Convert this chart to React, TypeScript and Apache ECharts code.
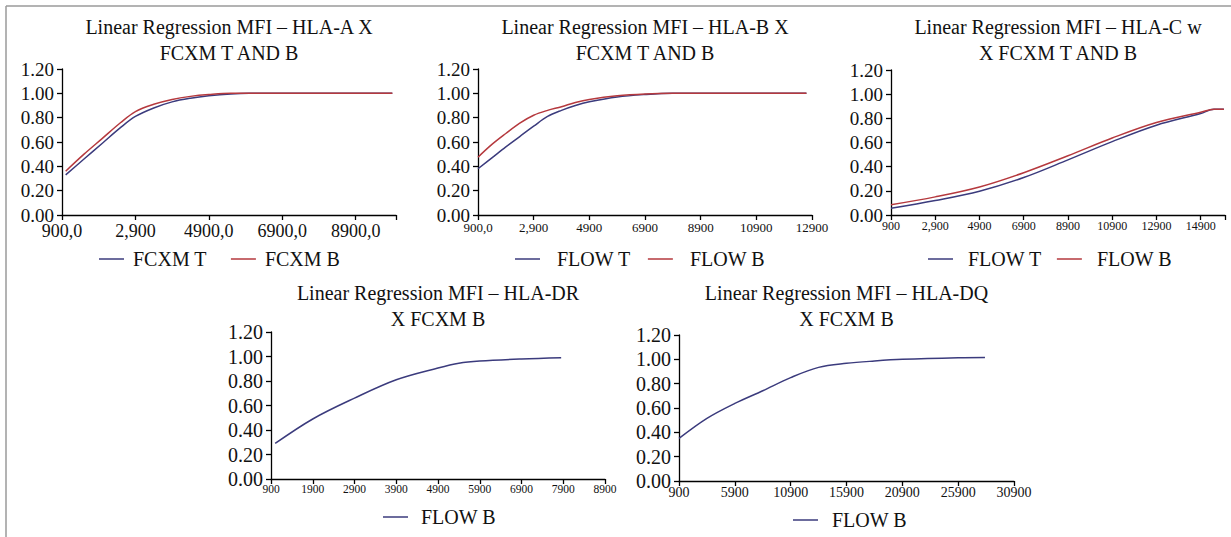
import React, { useEffect, useRef } from 'react';
import * as echarts from 'echarts';

const NAVY = '#3b3b7d';
const RED = '#b5393e';
const FONT = 'Liberation Serif';

// ---- titles ----
const titleA = 'Linear Regression MFI – HLA-A X\nFCXM T AND B';
const titleB = 'Linear Regression MFI – HLA-B X\nFCXM T AND B';
const titleC = 'Linear Regression MFI – HLA-C w\nX FCXM T AND B';
const titleDR = 'Linear Regression MFI – HLA-DR\nX FCXM B';
const titleDQ = 'Linear Regression MFI – HLA-DQ\nX FCXM B';

// ---- HLA-A ----
const aX = [1000, 1500, 2000, 2500, 2900, 3400, 3900, 4400, 4900, 5500, 6000, 7000, 8000, 9000, 9900];
const aT = [0.33, 0.46, 0.59, 0.72, 0.81, 0.88, 0.93, 0.96, 0.98, 0.995, 1.0, 1.0, 1.0, 1.0, 1.0];
const aB = [0.36, 0.5, 0.63, 0.76, 0.85, 0.91, 0.95, 0.975, 0.99, 1.0, 1.0, 1.0, 1.0, 1.0, 1.0];
const aTickValues = [900, 2900, 4900, 6900, 8900];
const aTickLabels = ['900,0', '2,900', '4900,0', '6900,0', '8900,0'];

// ---- HLA-B ----
const bX = [900, 1400, 1900, 2400, 2900, 3400, 3900, 4400, 4900, 5900, 6900, 7900, 8900, 10900, 12700];
const bT = [0.38, 0.47, 0.56, 0.645, 0.73, 0.81, 0.86, 0.9, 0.93, 0.97, 0.99, 1.0, 1.0, 1.0, 1.0];
const bB = [0.475, 0.58, 0.67, 0.755, 0.82, 0.86, 0.89, 0.925, 0.95, 0.98, 0.995, 1.0, 1.0, 1.0, 1.0];
const bTickValues = [900, 2900, 4900, 6900, 8900, 10900, 12900];
const bTickLabels = ['900,0', '2,900', '4900', '6900', '8900', '10900', '12900'];

// ---- HLA-C ----
const cX = [900, 2900, 4900, 6900, 8900, 10900, 12900, 14900, 15500, 15950];
const cT = [0.055, 0.12, 0.197, 0.31, 0.456, 0.607, 0.743, 0.84, 0.875, 0.875];
const cB = [0.085, 0.15, 0.232, 0.35, 0.49, 0.637, 0.765, 0.85, 0.875, 0.875];
const cTickValues = [900, 2900, 4900, 6900, 8900, 10900, 12900, 14900];
const cTickLabels = ['900', '2,900', '4900', '6900', '8900', '10900', '12900', '14900'];

// ---- HLA-DR ----
const drX = [1000, 1900, 2900, 3900, 4900, 5400, 5900, 6900, 7850];
const drB = [0.29, 0.49, 0.66, 0.81, 0.906, 0.945, 0.963, 0.98, 0.99];
const drTickValues = [900, 1900, 2900, 3900, 4900, 5900, 6900, 7900, 8900];
const drTickLabels = ['900', '1900', '2900', '3900', '4900', '5900', '6900', '7900', '8900'];

// ---- HLA-DQ ----
const dqX = [900, 3400, 5900, 8400, 10900, 13400, 15900, 18400, 20900, 25900, 28300];
const dqB = [0.35, 0.515, 0.638, 0.742, 0.85, 0.934, 0.967, 0.986, 1.0, 1.014, 1.016];
const dqTickValues = [900, 5900, 10900, 15900, 20900, 25900, 30900];
const dqTickLabels = ['900', '5900', '10900', '15900', '20900', '25900', '30900'];

const yTickValues = [0, 0.2, 0.4, 0.6, 0.8, 1.0, 1.2];
const yTickLabels = ['0.00', '0.20', '0.40', '0.60', '0.80', '1.00', '1.20'];

function pairs(xs: number[], ys: number[]) {
  return xs.map((x, i) => [x, ys[i]]);
}

function labelFrom(values: number[], labels: string[]) {
  return (v: number) => {
    for (let i = 0; i < values.length; i++) {
      if (Math.abs(values[i] - v) < 1e-6) return labels[i];
    }
    return '';
  };
}

export default function App() {
  const ref = useRef<HTMLDivElement>(null);

  useEffect(() => {
    if (!ref.current) return;
    const chart = echarts.init(ref.current, undefined, { renderer: 'svg' });

    const grids = [
      { left: 62, top: 69, width: 334, height: 146 },
      { left: 478, top: 69, width: 334, height: 146 },
      { left: 891, top: 70, width: 334, height: 145 },
      { left: 271, top: 332, width: 334, height: 147 },
      { left: 679, top: 335, width: 335, height: 146 },
    ];

    const xSpecs = [
      { min: 900, max: 10000, interval: 2000, vals: aTickValues, labs: aTickLabels, fs: 18, m: 8 },
      { min: 900, max: 12900, interval: 2000, vals: bTickValues, labs: bTickLabels, fs: 13, m: 6 },
      { min: 900, max: 16000, interval: 2000, vals: cTickValues, labs: cTickLabels, fs: 12, m: 5 },
      { min: 900, max: 8900, interval: 1000, vals: drTickValues, labs: drTickLabels, fs: 11.5, m: 5 },
      { min: 900, max: 30900, interval: 5000, vals: dqTickValues, labs: dqTickLabels, fs: 14, m: 5 },
    ];
    const yFs = [19, 19, 19, 20, 20];

    const axisLine = { show: true, lineStyle: { color: '#000', width: 1.3 } };
    const axisTick = { show: true, inside: false, length: 5, lineStyle: { color: '#000', width: 1.3 } };

    const xAxis = xSpecs.map((s, i) => ({
      type: 'value',
      gridIndex: i,
      min: s.min,
      max: s.max,
      interval: s.interval,
      splitLine: { show: false },
      axisLine,
      axisTick,
      axisLabel: {
        color: '#111',
        fontFamily: FONT,
        fontSize: s.fs,
        lineHeight: Math.round(s.fs * 0.9),
        margin: s.m,
        showMinLabel: true,
        showMaxLabel: true,
        formatter: labelFrom(s.vals, s.labs),
      },
    }));

    const yAxis = grids.map((_, i) => ({
      type: 'value',
      gridIndex: i,
      min: 0,
      max: 1.2,
      interval: 0.2,
      splitLine: { show: false },
      axisLine,
      axisTick,
      axisLabel: {
        color: '#111',
        fontFamily: FONT,
        fontSize: yFs[i],
        lineHeight: 14,
        margin: 8,
        formatter: labelFrom(yTickValues, yTickLabels),
      },
    }));

    const titleTexts = [titleA, titleB, titleC, titleDR, titleDQ];
    const titleTops = [14, 14, 14, 280, 280];
    const title = titleTexts.map((t, i) => ({
      text: t,
      left: grids[i].left + grids[i].width / 2,
      top: titleTops[i],
      textAlign: 'center',
      padding: 0,
      textStyle: {
        fontFamily: FONT,
        fontWeight: 'normal',
        fontSize: 20,
        lineHeight: 26,
        color: '#111',
      },
    }));

    const mkLegend = (left: number, top: number, names: string[], colors: string[], gap: number, pad: number) => ({
      left,
      top,
      orient: 'horizontal',
      itemWidth: 25,
      itemHeight: 14,
      itemGap: gap,
      padding: 0,
      data: names.map((n, k) => ({
        name: n,
        icon: 'path://M0,6 L25,6 L25,7.5 L0,7.5 Z',
        itemStyle: { color: colors[k] },
        lineStyle: { color: colors[k] },
      })),
      textStyle: {
        fontFamily: FONT,
        fontSize: 20,
        lineHeight: 20,
        color: '#111',
        padding: [0, 0, 0, pad],
      },
    });

    const legend = [
      mkLegend(99, 249, ['FCXM T', 'FCXM B'], [NAVY, RED], 24, 4),
      mkLegend(515, 249, ['FLOW T', 'FLOW B'], [NAVY, RED], 17, 12),
      mkLegend(928, 249, ['FLOW T', 'FLOW B'], [NAVY, RED], 15, 10),
      mkLegend(383, 507, ['FLOW B'], [NAVY], 10, 8),
      mkLegend(793, 510, ['FLOW B'], [NAVY], 10, 9),
    ];

    const line = (name: string, idx: number, data: number[][], color: string) => ({
      type: 'line',
      name,
      xAxisIndex: idx,
      yAxisIndex: idx,
      data,
      smooth: 0.35,
      symbol: 'none',
      showSymbol: false,
      lineStyle: { color, width: 1.5 },
      itemStyle: { color },
    });

    const series = [
      line('FCXM T', 0, pairs(aX, aT), NAVY),
      line('FCXM B', 0, pairs(aX, aB), RED),
      line('FLOW T', 1, pairs(bX, bT), NAVY),
      line('FLOW B', 1, pairs(bX, bB), RED),
      line('FLOW T', 2, pairs(cX, cT), NAVY),
      line('FLOW B', 2, pairs(cX, cB), RED),
      line('FLOW B', 3, pairs(drX, drB), NAVY),
      line('FLOW B', 4, pairs(dqX, dqB), NAVY),
    ];

    chart.setOption({
      animation: false,
      backgroundColor: '#fff',
      textStyle: { fontFamily: FONT },
      title,
      legend,
      grid: grids.map((g) => ({ ...g, containLabel: false })),
      xAxis,
      yAxis,
      series,
      graphic: [
        { type: 'line', shape: { x1: 6, y1: 6, x2: 1231, y2: 6 }, style: { stroke: '#9a9a9a', lineWidth: 1.5 } },
        { type: 'line', shape: { x1: 6, y1: 6, x2: 6, y2: 537 }, style: { stroke: '#9a9a9a', lineWidth: 1.5 } },
      ],
    });

    return () => chart.dispose();
  }, []);

  return (
    <div
      ref={ref}
      style={{ position: 'fixed', left: 0, top: 0, width: 1231, height: 537, background: '#fff' }}
    />
  );
}
